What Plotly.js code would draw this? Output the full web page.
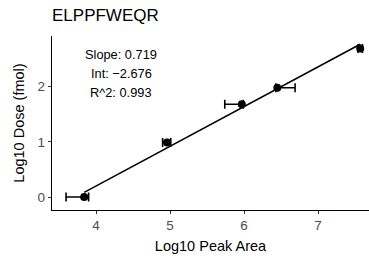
<!DOCTYPE html>
<html>
<head>
<meta charset="utf-8">
<script src="https://cdn.plot.ly/plotly-3.0.1.min.js"></script>
<style>html,body{margin:0;padding:0;background:#fff;}#chart{width:369px;height:263px;}</style>
</head>
<body>
<div id="chart"></div>
<script>
const peakArea = [3.84, 4.96, 5.97, 6.45, 7.57];
const dose = [0, 0.99, 1.68, 1.98, 2.69];
const errPlus = [0.06, 0.05, 0.02, 0.24, 0.03];
const errMinus = [0.245, 0.06, 0.23, 0.02, 0.03];
const slope = 0.719;
const intercept = -2.676;
const r2 = 0.993;
const titleText = "ELPPFWEQR";

const xmin = Math.min(...peakArea), xmax = Math.max(...peakArea);
const lineX = [xmin, xmax];
const lineY = lineX.map(v => slope * v + intercept);

const font = "Liberation Sans, Arial, sans-serif";
const data = [
  {x: lineX, y: lineY, mode: "lines", type: "scatter", line: {color: "#000", width: 1.6}, hoverinfo: "skip"},
  {x: peakArea, y: dose, mode: "markers", type: "scatter",
   marker: {color: "#000", size: 8},
   error_x: {type: "data", symmetric: false, array: errPlus, arrayminus: errMinus, color: "#000", thickness: 1.6, width: 4.5}}
];
const layout = {
  width: 369, height: 263,
  margin: {l: 52, r: 0, t: 36, b: 53},
  paper_bgcolor: "#fff", plot_bgcolor: "#fff",
  showlegend: false,
  font: {family: font, color: "#000"},
  title: {text: titleText, x: 52/369, xanchor: "left", y: 1 - 15/263, yanchor: "middle", font: {size: 17, color: "#000", family: font}},
  xaxis: {range: [3.405, 7.689], showgrid: false, zeroline: false, showline: true, linecolor: "#000", linewidth: 1.2,
    ticks: "outside", ticklen: 3, tickcolor: "#333", tickvals: [4,5,6,7], tickfont: {size: 13.5, color: "#4d4d4d"},
    title: {text: "Log10 Peak Area", font: {size: 14.5, color: "#000"}, standoff: 8}},
  yaxis: {range: [-0.235, 2.917], showgrid: false, zeroline: false, showline: true, linecolor: "#000", linewidth: 1.2,
    ticks: "outside", ticklen: 3, tickcolor: "#333", tickvals: [0,1,2], tickfont: {size: 13.5, color: "#4d4d4d"},
    title: {text: "Log10 Dose (fmol)", font: {size: 14.5, color: "#000"}, standoff: 9}},
  annotations: [
    {text: "Slope: " + slope.toFixed(3), x: 121, y: 54},
    {text: "Int: " + (intercept < 0 ? "\u2212" + Math.abs(intercept).toFixed(3) : intercept.toFixed(3)), x: 121, y: 73},
    {text: "R^2: " + r2.toFixed(3), x: 121, y: 92}
  ].map(a => ({text: a.text, xref: "paper", yref: "paper",
    x: (a.x - 52) / 317, y: (210 - a.y) / 174, xanchor: "center", yanchor: "middle",
    showarrow: false, font: {size: 12.8, color: "#000", family: font}}))
};
Plotly.newPlot("chart", data, layout, {displayModeBar: false, staticPlot: true});
</script>
</body>
</html>
